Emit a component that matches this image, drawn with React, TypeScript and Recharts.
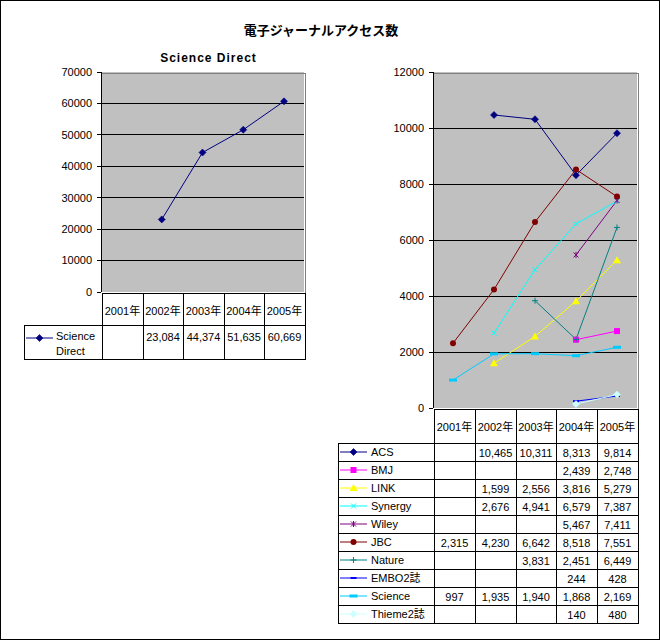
import React from "react";
import { LineChart, Line, XAxis, YAxis, CartesianGrid } from "recharts";

const years = ["2001年", "2002年", "2003年", "2004年", "2005年"];

const scienceDirect = [null, 23084, 44374, 51635, 60669];

const acs = [null, 10465, 10311, 8313, 9814];
const bmj = [null, null, null, 2439, 2748];
const link = [null, 1599, 2556, 3816, 5279];
const synergy = [null, 2676, 4941, 6579, 7387];
const wiley = [null, null, null, 5467, 7411];
const jbc = [2315, 4230, 6642, 8518, 7551];
const nature = [null, null, 3831, 2451, 6449];
const embo = [null, null, null, 244, 428];
const science = [997, 1935, 1940, 1868, 2169];
const thieme = [null, null, null, 140, 480];

const leftTicks = [0, 10000, 20000, 30000, 40000, 50000, 60000, 70000];
const rightTicks = [0, 2000, 4000, 6000, 8000, 10000, 12000];

type MarkerKind =
  | "diamond"
  | "square"
  | "triangle"
  | "x"
  | "star"
  | "circle"
  | "plus"
  | "dash"
  | "bar";

interface Series {
  key: string;
  name: string;
  values: (number | null)[];
  color: string;
  marker: MarkerKind;
}

const series: Series[] = [
  { key: "acs", name: "ACS", values: acs, color: "#000080", marker: "diamond" },
  { key: "bmj", name: "BMJ", values: bmj, color: "#FF00FF", marker: "square" },
  { key: "link", name: "LINK", values: link, color: "#FFFF00", marker: "triangle" },
  { key: "synergy", name: "Synergy", values: synergy, color: "#00FFFF", marker: "x" },
  { key: "wiley", name: "Wiley", values: wiley, color: "#800080", marker: "star" },
  { key: "jbc", name: "JBC", values: jbc, color: "#800000", marker: "circle" },
  { key: "nature", name: "Nature", values: nature, color: "#008080", marker: "plus" },
  { key: "embo", name: "EMBO2誌", values: embo, color: "#0000FF", marker: "dash" },
  { key: "science", name: "Science", values: science, color: "#00CCFF", marker: "bar" },
  { key: "thieme", name: "Thieme2誌", values: thieme, color: "#CCFFFF", marker: "diamond" },
];

const leftRows = years.map((year, i) => ({ year, sd: scienceDirect[i] }));
const rightRows = years.map((year, i) => {
  const row: Record<string, any> = { year };
  series.forEach((s) => (row[s.key] = s.values[i]));
  return row;
});

const FONT = '"Liberation Sans", "Noto Sans CJK JP", sans-serif';

const Marker = ({ kind, color, cx, cy }: { kind: MarkerKind; color: string; cx: number; cy: number }) => {
  switch (kind) {
    case "diamond":
      return (
        <polygon
          points={`${cx},${cy - 3.5} ${cx + 3.5},${cy} ${cx},${cy + 3.5} ${cx - 3.5},${cy}`}
          fill={color}
          stroke={color}
          strokeWidth={0.6}
        />
      );
    case "square":
      return <rect x={cx - 3} y={cy - 3} width={6} height={6} fill={color} />;
    case "triangle":
      return (
        <polygon
          points={`${cx},${cy - 4} ${cx + 4},${cy + 3} ${cx - 4},${cy + 3}`}
          fill={color}
        />
      );
    case "x":
      return (
        <path
          d={`M${cx - 2.5},${cy - 2.5}L${cx + 2.5},${cy + 2.5}M${cx - 2.5},${cy + 2.5}L${cx + 2.5},${cy - 2.5}`}
          stroke={color}
          fill="none"
        />
      );
    case "star":
      return (
        <path
          d={`M${cx - 2.5},${cy - 2.5}L${cx + 2.5},${cy + 2.5}M${cx - 2.5},${cy + 2.5}L${cx + 2.5},${cy - 2.5}M${cx},${cy - 3}L${cx},${cy + 3}`}
          stroke={color}
          fill="none"
        />
      );
    case "circle":
      return <circle cx={cx} cy={cy} r={3} fill={color} />;
    case "plus":
      return (
        <path
          d={`M${cx - 3},${cy}L${cx + 3},${cy}M${cx},${cy - 3}L${cx},${cy + 3}`}
          stroke={color}
          fill="none"
        />
      );
    case "dash":
      return <rect x={cx - 3} y={cy - 1} width={6} height={2} fill={color} />;
    case "bar":
      return <rect x={cx - 4} y={cy - 1.5} width={8} height={3} fill={color} />;
  }
  return null;
};

const makeDot = (id: string, kind: MarkerKind, color: string) => (p: any) => {
  const { cx, cy, index, value } = p;
  if (cx == null || cy == null || value == null || Number.isNaN(cy)) {
    return <g key={`${id}-${index}`} />;
  }
  return (
    <g key={`${id}-${index}`}>
      <Marker kind={kind} color={color} cx={cx} cy={cy} />
    </g>
  );
};

const LegendKey = ({ kind, color }: { kind: MarkerKind; color: string }) => (
  <svg width={28} height={10} style={{ display: "block" }}>
    <line x1={0} y1={5} x2={27} y2={5} stroke={color} strokeWidth={1} />
    <Marker kind={kind} color={color} cx={13.5} cy={5} />
  </svg>
);

const HL = ({ x1, x2, y, color = "#000" }: { x1: number; x2: number; y: number; color?: string }) => (
  <div style={{ position: "absolute", left: x1, top: y, width: x2 - x1 + 1, height: 1, background: color }} />
);

const VL = ({ x, y1, y2, color = "#000" }: { x: number; y1: number; y2: number; color?: string }) => (
  <div style={{ position: "absolute", left: x, top: y1, width: 1, height: y2 - y1 + 1, background: color }} />
);

const Cell = ({
  left,
  top,
  width,
  height,
  children,
}: {
  left: number;
  top: number;
  width: number;
  height: number;
  children: React.ReactNode;
}) => (
  <div
    style={{
      position: "absolute",
      left,
      top,
      width,
      height,
      display: "flex",
      alignItems: "center",
      justifyContent: "center",
      fontSize: 11,
      whiteSpace: "nowrap",
    }}
  >
    {children}
  </div>
);

const fmt = (v: number | null) => (v == null ? "" : v.toLocaleString("en-US"));

// geometry of the two plot areas
const L = { x: 101, y: 72, w: 203, h: 220 };
const R = { x: 433, y: 72, w: 204, h: 336 };

export default function App() {
  const lCols = years.map((_, i) => Math.round(L.x + (i * L.w) / 5)).concat(L.x + L.w);
  const rCols = years.map((_, i) => Math.round(R.x + (i * R.w) / 5)).concat(R.x + R.w);
  const rRowTop = 442;
  const rRowH = 18;

  return (
    <div
      style={{
        position: "absolute",
        left: 0,
        top: 0,
        width: 660,
        height: 640,
        boxSizing: "border-box",
        border: "1px solid #000",
        background: "#fff",
        fontFamily: FONT,
        color: "#000",
      }}
    >
      <style>{`.recharts-cartesian-grid-horizontal line, .recharts-cartesian-axis-line, .recharts-cartesian-axis-tick-line { shape-rendering: crispEdges; }`}</style>
      <div
        style={{
          position: "absolute",
          left: 200,
          top: 19,
          width: 240,
          textAlign: "center",
          fontSize: 13,
          fontWeight: "bold",
          fontFamily: '"Noto Sans CJK JP", sans-serif',
        }}
      >
        電子ジャーナルアクセス数
      </div>

      <div
        style={{
          position: "absolute",
          left: 130,
          top: 50,
          width: 155,
          textAlign: "center",
          fontSize: 12,
          fontWeight: "bold",
          letterSpacing: 1,
        }}
      >
        Science Direct
      </div>

      {/* left chart */}
      <div style={{ position: "absolute", left: L.x - 61, top: L.y - 11 }}>
        <LineChart
          width={60 + L.w + 5}
          height={L.h + 15}
          data={leftRows}
          margin={{ top: 10, right: 5, bottom: 5, left: 0 }}
        >
          <CartesianGrid
            fill="#C0C0C0"
            fillOpacity={1}
            stroke="#000"
            vertical={false}
            horizontalValues={[10000, 20000, 30000, 40000, 50000, 60000]}
          />
          <XAxis dataKey="year" hide padding={{ left: 20, right: 20 }} />
          <YAxis
            width={60}
            domain={[0, 70000]}
            ticks={leftTicks}
            interval={0}
            tickSize={4}
            tickMargin={5}
            axisLine={{ stroke: "#000" }}
            tickLine={{ stroke: "#000" }}
            tick={{ fill: "#000", fontSize: 11, fontFamily: FONT }}
          />
          <Line
            dataKey="sd"
            stroke="#000080"
            strokeWidth={1}
            dot={makeDot("sd", "diamond", "#000080")}
            activeDot={false}
            isAnimationActive={false}
          />
        </LineChart>
      </div>

      {/* right chart */}
      <div style={{ position: "absolute", left: R.x - 61, top: R.y - 11 }}>
        <LineChart
          width={60 + R.w + 5}
          height={R.h + 15}
          data={rightRows}
          margin={{ top: 10, right: 5, bottom: 5, left: 0 }}
        >
          <CartesianGrid
            fill="#C0C0C0"
            fillOpacity={1}
            stroke="#000"
            vertical={false}
            horizontalValues={[2000, 4000, 6000, 8000, 10000]}
          />
          <XAxis dataKey="year" hide padding={{ left: 20, right: 20 }} />
          <YAxis
            width={60}
            domain={[0, 12000]}
            ticks={rightTicks}
            interval={0}
            tickSize={4}
            tickMargin={5}
            axisLine={{ stroke: "#000" }}
            tickLine={{ stroke: "#000" }}
            tick={{ fill: "#000", fontSize: 11, fontFamily: FONT }}
          />
          {series.map((s) => (
            <Line
              key={s.key}
              dataKey={s.key}
              name={s.name}
              stroke={s.color}
              strokeWidth={1}
              dot={makeDot(s.key, s.marker, s.color)}
              activeDot={false}
              isAnimationActive={false}
            />
          ))}
        </LineChart>
      </div>

      {/* plot borders */}
      <HL x1={L.x} x2={L.x + L.w} y={L.y} color="#808080" />
      <VL x={L.x + L.w} y1={L.y} y2={L.y + L.h} color="#808080" />
      <HL x1={R.x} x2={R.x + R.w} y={R.y} color="#808080" />
      <VL x={R.x + R.w} y1={R.y} y2={R.y + R.h} color="#808080" />

      {/* left data table */}
      <HL x1={L.x} x2={L.x + L.w} y={L.y + L.h} />
      <HL x1={23} x2={L.x + L.w} y={324} />
      <HL x1={23} x2={L.x + L.w} y={358} />
      <VL x={23} y1={324} y2={358} />
      {lCols.map((x, i) => (
        <VL key={`lc${i}`} x={x} y1={L.y + L.h} y2={358} />
      ))}
      {years.map((y, i) => (
        <Cell key={`ly${i}`} left={lCols[i]} top={L.y + L.h + 1} width={lCols[i + 1] - lCols[i]} height={31}>
          {y}
        </Cell>
      ))}
      {scienceDirect.map((v, i) => (
        <Cell key={`lv${i}`} left={lCols[i]} top={326} width={lCols[i + 1] - lCols[i]} height={20}>
          {fmt(v)}
        </Cell>
      ))}
      <div style={{ position: "absolute", left: 25, top: 332 }}>
        <LegendKey kind="diamond" color="#000080" />
      </div>
      <div style={{ position: "absolute", left: 55, top: 328, fontSize: 11, lineHeight: "15px" }}>
        Science
        <br />
        Direct
      </div>

      {/* right data table */}
      <HL x1={R.x} x2={R.x + R.w} y={R.y + R.h} />
      {series.map((_, i) => (
        <HL key={`rh${i}`} x1={337} x2={R.x + R.w} y={rRowTop + i * rRowH} />
      ))}
      <HL x1={337} x2={R.x + R.w} y={rRowTop + series.length * rRowH} />
      <VL x={337} y1={rRowTop} y2={rRowTop + series.length * rRowH} />
      {rCols.map((x, i) => (
        <VL key={`rc${i}`} x={x} y1={R.y + R.h} y2={rRowTop + series.length * rRowH} />
      ))}
      {years.map((y, i) => (
        <Cell key={`ry${i}`} left={rCols[i]} top={R.y + R.h + 1} width={rCols[i + 1] - rCols[i]} height={rRowTop - R.y - R.h - 3}>
          {y}
        </Cell>
      ))}
      {series.map((s, r) => (
        <React.Fragment key={`rr${s.key}`}>
          <div style={{ position: "absolute", left: 339, top: rRowTop + r * rRowH + 4 }}>
            <LegendKey kind={s.marker} color={s.color} />
          </div>
          <div
            style={{
              position: "absolute",
              left: 370,
              top: rRowTop + r * rRowH + 1,
              height: rRowH - 1,
              lineHeight: `${rRowH - 1}px`,
              fontSize: 11,
              whiteSpace: "nowrap",
            }}
          >
            {s.name}
          </div>
          {s.values.map((v, i) => (
            <Cell
              key={`rv${s.key}${i}`}
              left={rCols[i]}
              top={rRowTop + r * rRowH + 1}
              width={rCols[i + 1] - rCols[i]}
              height={rRowH - 1}
            >
              {fmt(v)}
            </Cell>
          ))}
        </React.Fragment>
      ))}
    </div>
  );
}
